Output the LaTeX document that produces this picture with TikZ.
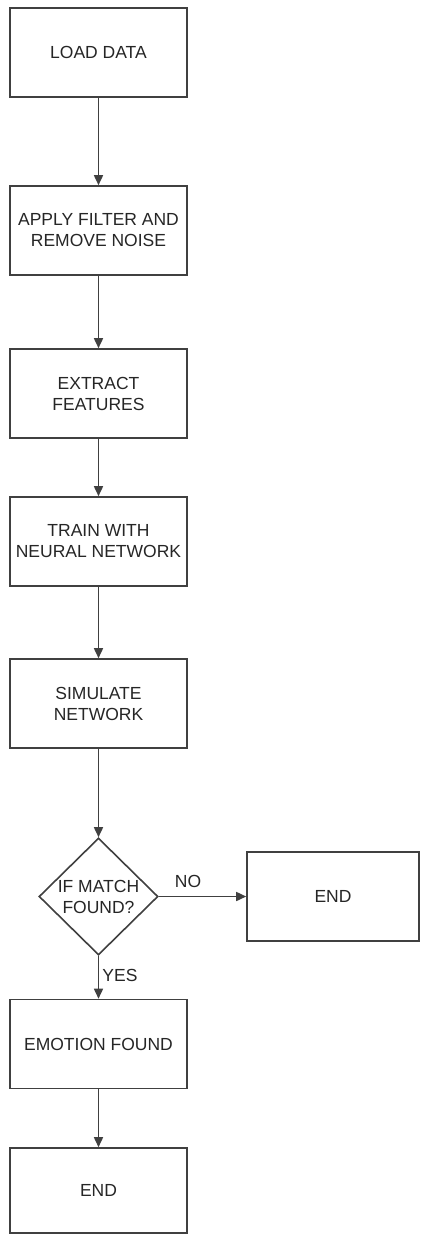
\documentclass[tikz,border=0pt]{standalone}
\usepackage{fontspec}
\setmainfont{Liberation Sans}
\usetikzlibrary{shapes.geometric,arrows.meta}
\begin{document}
\begin{tikzpicture}[x=1pt,y=-1pt,
  txt/.style={font=\fontsize{17.5}{21}\selectfont, text=black!85},
  box/.style={txt, draw=black!75, line width=1.6pt, minimum width=177pt, minimum height=89pt, inner sep=0pt, align=center},
  dec/.style={txt, draw=black!75, line width=1.6pt, shape=diamond, minimum width=119pt, minimum height=117pt, inner sep=0pt, align=center},
  arr/.style={draw=black!75, line width=1.6pt, -{Triangle[length=10pt,width=9pt]}},
  lbl/.style={txt, inner sep=0pt}]
\useasboundingbox (0,0) rectangle (422,1235);
\fill[white] (0,0) rectangle (422,1235);
\node[box] (load) at (98.5,52.5) {LOAD DATA};
\node[box] (filter) at (98.5,230.5) {APPLY FILTER AND\\REMOVE NOISE};
\node[box] (extract) at (98.5,393.5) {EXTRACT\\FEATURES};
\node[box] (train) at (98.5,541.5) {TRAIN WITH\\NEURAL NETWORK};
\node[box] (sim) at (98.5,703.5) {SIMULATE\\NETWORK};
\node[dec] (match) at (98.5,896.5) {IF MATCH\\FOUND?};
\node[box, minimum width=172pt] (endr) at (333,896.5) {END};
\node[box] (emo) at (98.5,1044) {EMOTION FOUND};
\node[box, minimum height=85pt] (endb) at (98.5,1190.5) {END};
\draw[arr] (load) -- (filter);
\draw[arr] (filter) -- (extract);
\draw[arr] (extract) -- (train);
\draw[arr] (train) -- (sim);
\draw[arr] (sim) -- (match);
\draw[arr] (match) -- (endr);
\draw[arr] (match) -- (emo);
\draw[arr] (emo) -- (endb);
\node[lbl] (no) at (188,881) {NO};
\node[lbl] (yes) at (120,975) {YES};
\end{tikzpicture}
\end{document}
